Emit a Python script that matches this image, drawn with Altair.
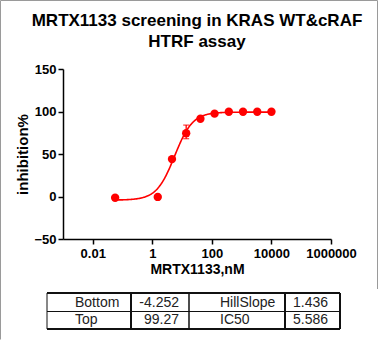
import altair as alt
import pandas as pd

# ---------------- data ----------------
title_lines = ["MRTX1133 screening in KRAS WT&cRAF", "HTRF assay"]
conc_nM = [0.0564, 1.52, 4.57, 13.7, 41.2, 123.0, 370.0, 1111.0, 3333.0, 10000.0]
inhibition = [-1.5, -0.5, 44.0, 74.5, 91.5, 97.5, 99.7, 99.7, 99.7, 99.7]
err_conc = [13.7]
err_low = [68.0]
err_high = [84.0]

fit_names = ["Bottom", "Top", "HillSlope", "IC50"]
fit_labels = ["-4.252", "99.27", "1.436", "5.586"]
fit_bottom, fit_top, fit_hill, fit_ic50 = [float(v) for v in fit_labels]

x_ticks = [0.01, 1, 100, 10000, 1000000]
y_ticks = [-50, 0, 50, 100, 150]

# ---------------- layout ----------------
W, H = 268, 170
PAD_L, PAD_T = 63, 69
RED = "#ff0000"
FONT = "Liberation Sans"

xscale = alt.Scale(type="log", domain=[0.001, 1000000])
yscale = alt.Scale(domain=[-50, 150])

pts = pd.DataFrame({"conc": conc_nM, "inh": inhibition})
errs = pd.DataFrame({"conc": err_conc, "lo": err_low, "hi": err_high})

x_axis = alt.Axis(
    values=x_ticks, title="MRTX1133,nM",
    labelExpr="datum.value < 1 ? format(datum.value, '.2f') : format(datum.value, 'd')",
    labelFlush=False, labelOverlap=False, tickSize=5, labelPadding=3, titlePadding=2,
)
y_axis = alt.Axis(values=y_ticks, title="inhibition%", labelFlush=False,
                  tickSize=5, labelPadding=2, titlePadding=3, titleFontSize=15)

points = alt.Chart(pts).mark_circle(size=70, color=RED, opacity=1).encode(
    x=alt.X("conc:Q", scale=xscale, axis=x_axis),
    y=alt.Y("inh:Q", scale=yscale, axis=y_axis),
)

curve = alt.Chart(alt.sequence(start=-1.2487, stop=4.0001, step=0.02, as_="t")).transform_calculate(
    conc="pow(10, datum.t)",
    inh=f"{fit_bottom} + ({fit_top} - ({fit_bottom})) / (1 + pow({fit_ic50} / datum.conc, {fit_hill}))",
).mark_line(color=RED, strokeWidth=1.6).encode(
    x=alt.X("conc:Q", scale=xscale),
    y=alt.Y("inh:Q", scale=yscale),
)

err_rule = alt.Chart(errs).mark_rule(color=RED, strokeWidth=1.3).encode(
    x=alt.X("conc:Q", scale=xscale), y=alt.Y("lo:Q", scale=yscale), y2="hi:Q"
)
err_cap_lo = alt.Chart(errs).mark_tick(color=RED, orient="horizontal", size=6, thickness=1.3).encode(
    x=alt.X("conc:Q", scale=xscale), y=alt.Y("lo:Q", scale=yscale)
)
err_cap_hi = alt.Chart(errs).mark_tick(color=RED, orient="horizontal", size=6, thickness=1.3).encode(
    x=alt.X("conc:Q", scale=xscale), y=alt.Y("hi:Q", scale=yscale)
)

main = alt.layer(curve, err_rule, err_cap_lo, err_cap_hi, points)

# ---------------- parameter table (pixel layout, relative to plot origin) ----------------
col_edges = [-16, 68, 126, 222, 277]
row_edges = [224, 242.5, 260]
grid = pd.DataFrame({
    "x": [col_edges[0], col_edges[0], col_edges[0], col_edges[0]] + col_edges[1:] + [-62.5, -62.5, 314.5],
    "x2": [col_edges[4], col_edges[4], col_edges[4], col_edges[0]] + col_edges[1:] + [-62.5, 314.5, 314.5],
    "y": [row_edges[0], row_edges[1], row_edges[2], row_edges[0]] + [row_edges[0]] * 4 + [-68.5, -68.5, -68.5],
    "y2": [row_edges[0], row_edges[1], row_edges[2], row_edges[2]] + [row_edges[2]] * 4 + [270.5, -68.5, 220],
    "w": [1.8, 1.0, 2.0, 1.0, 2.0, 1.5, 2.0, 2.0, 1.0, 1.0, 1.0],
    "c": ["#111"] * 8 + ["#9a9a9a"] * 3,
})
grid_layer = alt.Chart(grid).mark_rule().encode(
    x=alt.X("x:Q", scale=None, axis=None), x2="x2:Q",
    y=alt.Y("y:Q", scale=None, axis=None), y2="y2:Q",
    strokeWidth=alt.StrokeWidth("w:Q", scale=None, legend=None),
    color=alt.Color("c:N", scale=None, legend=None),
)

text_left = pd.DataFrame({
    "x": [12, 12, 157, 157, 230, 230],
    "y": [237.5, 255, 237.5, 255, 237.5, 255],
    "t": [fit_names[0], fit_names[1], fit_names[2], fit_names[3], fit_labels[2], fit_labels[3]],
})
text_right = pd.DataFrame({"x": [116, 116], "y": [237.5, 255], "t": [fit_labels[0], fit_labels[1]]})

def table_text(df, align):
    return alt.Chart(df).mark_text(
        align=align, baseline="alphabetic", font=FONT, fontSize=14, color="#222"
    ).encode(
        x=alt.X("x:Q", scale=None, axis=None),
        y=alt.Y("y:Q", scale=None, axis=None),
        text="t:N",
    )

table = alt.layer(grid_layer, table_text(text_left, "left"), table_text(text_right, "right"))

chart = alt.layer(main, table).resolve_scale(x="independent", y="independent").properties(
    width=W, height=H,
    title=alt.TitleParams(text=title_lines, font=FONT, fontSize=17, fontWeight="bold",
                          color="#000", anchor="middle", frame="group", lineHeight=21, offset=-51),
    autosize=alt.AutoSizeParams(type="none"),
    padding={"left": PAD_L, "top": PAD_T, "right": 380 - PAD_L - W, "bottom": 340 - PAD_T - H},
).configure_view(stroke=None).configure_axis(
    domainColor="#000", domainWidth=1.5, tickColor="#000", tickWidth=1.5,
    labelFont=FONT, labelFontSize=13, labelFontWeight="bold", labelColor="#000",
    titleFont=FONT, titleFontSize=14, titleFontWeight="bold", titleColor="#000", grid=False,
)

chart.save("out.html", embed_options={"renderer": "svg", "actions": False})
